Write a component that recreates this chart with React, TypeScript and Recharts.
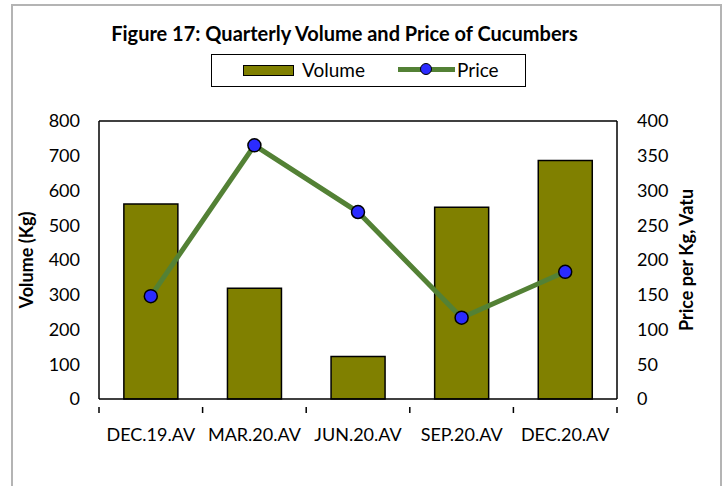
import React from "react";
import { ComposedChart, Bar, Line, XAxis, YAxis, ReferenceLine } from "recharts";

const quarters = ["DEC.19.AV", "MAR.20.AV", "JUN.20.AV", "SEP.20.AV", "DEC.20.AV"];
const volumeKg = [561, 319, 122, 552, 686];
const pricePerKg = [148, 365, 269, 117, 183];
const volumeTicks = [0, 100, 200, 300, 400, 500, 600, 700, 800];
const priceTicks = [0, 50, 100, 150, 200, 250, 300, 350, 400];

const data = quarters.map((q, i) => ({ quarter: q, volume: volumeKg[i], price: pricePerKg[i] }));

const FONT = "Lato, 'Open Sans', sans-serif";
const W = 725;
const H = 486;
const M = { top: 121, right: 48, bottom: 57, left: 39 };
const AXIS_W = 60;
const PLOT_W = W - M.left - M.right - AXIS_W * 2;
const STEP = PLOT_W / quarters.length;

const OLIVE = "#808000";
const GREEN = "#538135";
const BLUE = "#2b2bff";

function CategoryTick(props: any) {
    const { x, y, payload, index } = props;
    const last = index === quarters.length - 1;
    return (
        <g>
            <line x1={x - STEP / 2} x2={x - STEP / 2} y1={y} y2={y + 6} stroke="#000" strokeWidth={1.5} />
            {last && <line x1={x + STEP / 2} x2={x + STEP / 2} y1={y} y2={y + 6} stroke="#000" strokeWidth={1.5} />}
            <text x={x} y={y + 34} textAnchor="middle" style={{ fontSize: 18, fontWeight: 400, fill: "#000", stroke: "none", fontFamily: FONT }}>
                {payload.value}
            </text>
        </g>
    );
}

function PriceDot(props: any) {
    const { cx, cy } = props;
    return <circle cx={cx} cy={cy} r={6.5} fill={BLUE} stroke="#000" strokeWidth={1.5} />;
}

export default function App() {
    return (
        <div style={{ position: "absolute", left: 0, top: 0, width: W, height: H, overflow: "hidden", background: "#fff", fontFamily: FONT }}>
            <div style={{ position: "absolute", left: 11, top: 4, width: 707, height: 520, border: "2px solid #b4b4b4" }} />
            <div style={{ position: "absolute", left: -18, width: W, top: 21, textAlign: "center", fontWeight: 700, fontSize: 20, color: "#000" }}>
                Figure 17: Quarterly Volume and Price of Cucumbers
            </div>
            <div style={{ position: "absolute", left: 211, top: 54, width: 313, height: 31, border: "1.5px solid #000", fontSize: 19 }}>
                <div style={{ position: "absolute", left: 31, top: 10, width: 49, height: 9, background: OLIVE, border: "1.5px solid #000" }} />
                <div style={{ position: "absolute", left: 90, top: 3 }}>Volume</div>
                <div style={{ position: "absolute", left: 186, top: 12, width: 57, height: 5, background: GREEN }} />
                <div style={{ position: "absolute", left: 208, top: 8, width: 12, height: 12, borderRadius: "50%", background: BLUE, border: "1.5px solid #000", boxSizing: "border-box" }} />
                <div style={{ position: "absolute", left: 245, top: 3 }}>Price</div>
            </div>
            <ComposedChart width={W} height={H} data={data} margin={M} barCategoryGap="24%" style={{ position: "absolute", left: 0, top: 0 }}>
                <XAxis dataKey="quarter" height={30} tickLine={false} interval={0} tick={<CategoryTick />} axisLine={{ stroke: "#000", strokeWidth: 1.5 }} />
                <YAxis
                    yAxisId="vol"
                    width={AXIS_W}
                    domain={[0, 800]}
                    ticks={volumeTicks}
                    tickLine={false}
                    tickSize={0}
                    tickMargin={19}
                    axisLine={{ stroke: "#000", strokeWidth: 1.5 }}
                    tick={{ fontSize: 18, fill: "#000", fontFamily: FONT }}
                    label={{ value: "Volume (Kg)", angle: -90, position: "insideLeft", offset: -12, style: { fontWeight: 700, fontSize: 18, fill: "#000", fontFamily: FONT, textAnchor: "middle" } }}
                />
                <YAxis
                    yAxisId="price"
                    orientation="right"
                    width={AXIS_W}
                    domain={[0, 400]}
                    ticks={priceTicks}
                    tickLine={false}
                    tickSize={0}
                    tickMargin={20}
                    axisLine={{ stroke: "#000", strokeWidth: 1.5 }}
                    tick={{ fontSize: 18, fill: "#000", fontFamily: FONT, textAnchor: "start" }}
                    label={{ value: "Price per Kg, Vatu", angle: -90, position: "insideRight", offset: -10, style: { fontWeight: 700, fontSize: 18, fill: "#000", fontFamily: FONT, textAnchor: "middle" } }}
                />
                <ReferenceLine yAxisId="vol" y={800} stroke="#000" strokeWidth={1.5} />
                <Bar yAxisId="vol" dataKey="volume" fill={OLIVE} stroke="#000" strokeWidth={1.5} isAnimationActive={false} />
                <Line yAxisId="price" dataKey="price" type="linear" stroke={GREEN} strokeWidth={5} dot={<PriceDot />} activeDot={false} isAnimationActive={false} />
            </ComposedChart>
        </div>
    );
}
